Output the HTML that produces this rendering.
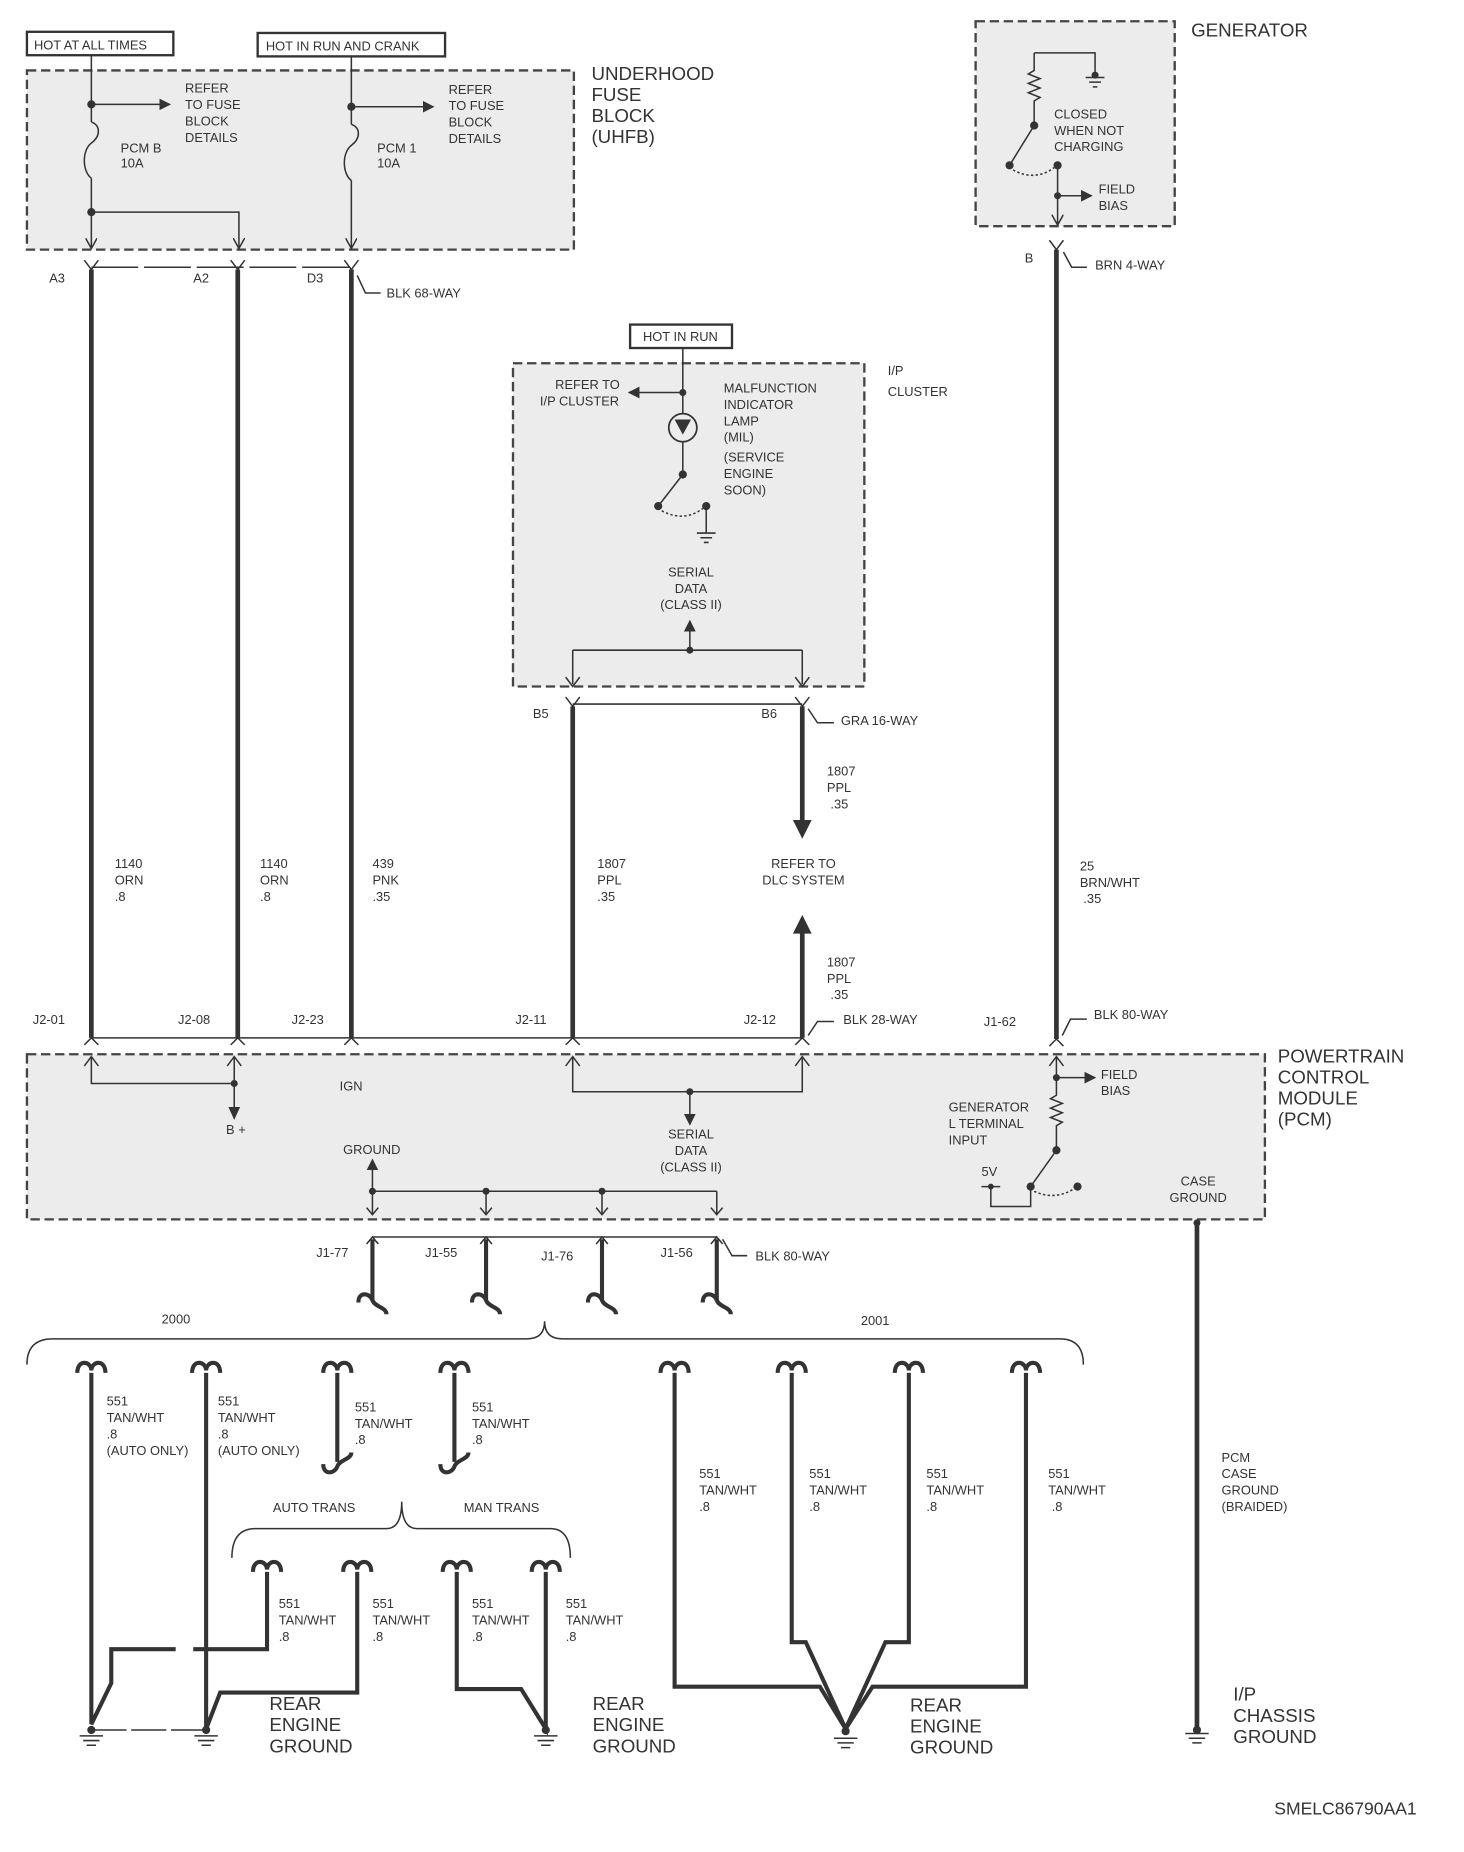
<!DOCTYPE html>
<html><head><meta charset="utf-8"><style>
html,body{margin:0;padding:0;background:#fff}
svg{display:block}
text{font-family:"Liberation Sans",sans-serif;fill:#333}
.s{font-size:11px}
.b{font-size:16px}
.w{stroke:#333;stroke-width:4;fill:none}
.t{stroke:#333;stroke-width:1.3;fill:none}
.box{fill:#ececec;stroke:#444;stroke-width:2;stroke-dasharray:8 4}
.h{stroke:#333;stroke-width:3.5;fill:none}
</style></head><body>
<svg width="1464" height="1852" viewBox="0 0 1250 1581" xmlns="http://www.w3.org/2000/svg">
<defs>
<marker id="a" markerWidth="10" markerHeight="10" refX="9" refY="5" orient="auto" markerUnits="userSpaceOnUse"><path d="M0,0 L10,5 L0,10 z" fill="#333"/></marker>
<marker id="o" markerWidth="10" markerHeight="10" refX="9" refY="5" orient="auto" markerUnits="userSpaceOnUse"><path d="M0,0 L9,5 L0,10" fill="none" stroke="#333" stroke-width="1.3"/></marker>
</defs>
<!-- top boxes -->
<rect x="23" y="27" width="125" height="20" fill="none" stroke="#333" stroke-width="2"/>
<text class="s" x="29" y="42">HOT AT ALL TIMES</text>
<rect x="220" y="28" width="160" height="20" fill="none" stroke="#333" stroke-width="2"/>
<text class="s" x="227" y="43">HOT IN RUN AND CRANK</text>
<rect class="box" x="23" y="60" width="467" height="153"/>
<text class="b" x="505" y="68">UNDERHOOD</text><text class="b" x="505" y="86">FUSE</text><text class="b" x="505" y="104">BLOCK</text><text class="b" x="505" y="122">(UHFB)</text>
<!-- UHFB internals -->
<path class="t" d="M78,47 V104 M78,152 V212" marker-end="url(#o)"/>
<path class="t" d="M78,104 c8,3 8,12 0,18 c-8,6 -8,24 0,30"/>
<circle cx="78" cy="89" r="3.5" fill="#333"/><path class="t" d="M78,89 H145" marker-end="url(#a)"/>
<circle cx="78" cy="181" r="3.5" fill="#333"/><path class="t" d="M78,181 H204 V212" marker-end="url(#o)"/>
<text class="s" x="158" y="79">REFER</text><text class="s" x="158" y="93">TO FUSE</text><text class="s" x="158" y="107">BLOCK</text><text class="s" x="158" y="121">DETAILS</text>
<text class="s" x="103" y="130">PCM B</text><text class="s" x="103" y="143">10A</text>
<path class="t" d="M300,48 V106 M300,154 V212" marker-end="url(#o)"/>
<path class="t" d="M300,106 c8,3 8,12 0,18 c-8,6 -8,24 0,30"/>
<circle cx="300" cy="91" r="3.5" fill="#333"/><path class="t" d="M300,91 H370" marker-end="url(#a)"/>
<text class="s" x="383" y="80">REFER</text><text class="s" x="383" y="94">TO FUSE</text><text class="s" x="383" y="108">BLOCK</text><text class="s" x="383" y="122">DETAILS</text>
<text class="s" x="322" y="130">PCM 1</text><text class="s" x="322" y="143">10A</text>
<!-- 68-way -->
<path class="t" d="M78,228 H300" stroke-dasharray="40 5"/>
<path class="w" d="M78,230 V886 M203,230 V886 M300,230 V886"/>
<path class="t" d="M72,222 L78,230 L84,222 M197,222 L203,230 L209,222 M294,222 L300,230 L306,222"/>
<text class="s" x="42" y="241">A3</text><text class="s" x="165" y="241">A2</text><text class="s" x="262" y="241">D3</text>
<path class="t" d="M305,235 L312,250 H325"/><text class="s" x="330" y="254">BLK 68-WAY</text>
<text class="s" x="98" y="741">1140</text><text class="s" x="98" y="755">ORN</text><text class="s" x="98" y="769">.8</text>
<text class="s" x="222" y="741">1140</text><text class="s" x="222" y="755">ORN</text><text class="s" x="222" y="769">.8</text>
<text class="s" x="318" y="741">439</text><text class="s" x="318" y="755">PNK</text><text class="s" x="318" y="769">.35</text>
<!-- 28-way -->
<path class="t" d="M78,886 H685"/>
<path class="t" d="M72,892 L78,886 L84,892 M197,892 L203,886 L209,892 M294,892 L300,886 L306,892 M483,892 L489,886 L495,892 M679,892 L685,886 L691,892"/>
<text class="s" x="28" y="874">J2-01</text><text class="s" x="152" y="874">J2-08</text><text class="s" x="249" y="874">J2-23</text><text class="s" x="440" y="874">J2-11</text><text class="s" x="635" y="874">J2-12</text>
<path class="t" d="M690,884 L698,872 H712"/><text class="s" x="720" y="874">BLK 28-WAY</text>
<!-- IP cluster -->
<rect x="538" y="277" width="87" height="20" fill="none" stroke="#333" stroke-width="2"/>
<text class="s" x="549" y="291">HOT IN RUN</text>
<rect class="box" x="438" y="310" width="300" height="276"/>
<text class="s" x="758" y="320">I/P</text><text class="s" x="758" y="338">CLUSTER</text>
<path class="t" d="M583,297 V353 M583,377 V405 L562,432"/>
<circle cx="583" cy="335" r="3" fill="#333"/><path class="t" d="M583,335 H537" marker-end="url(#a)"/>
<text class="s" x="474" y="332">REFER TO</text><text class="s" x="461" y="346">I/P CLUSTER</text>
<circle cx="583" cy="365" r="12" fill="none" stroke="#333" stroke-width="1.5"/>
<path d="M576,358 L590,358 L583,371 z" fill="#333"/>
<circle cx="583" cy="405" r="3.5" fill="#333"/><circle cx="562" cy="432" r="3.5" fill="#333"/><circle cx="603" cy="432" r="3.5" fill="#333"/>
<path class="t" d="M565,436 Q584,446 600,434" stroke-dasharray="2 2"/>
<path class="t" d="M603,432 V455 M595,455 H611 M598,459 H608 M601,463 H605"/>
<text class="s" x="618" y="335">MALFUNCTION</text><text class="s" x="618" y="349">INDICATOR</text><text class="s" x="618" y="363">LAMP</text><text class="s" x="618" y="377">(MIL)</text><text class="s" x="618" y="394">(SERVICE</text><text class="s" x="618" y="408">ENGINE</text><text class="s" x="618" y="422">SOON)</text>
<text class="s" x="590" y="492" text-anchor="middle">SERIAL</text><text class="s" x="590" y="506" text-anchor="middle">DATA</text><text class="s" x="590" y="520" text-anchor="middle">(CLASS II)</text>
<circle cx="589" cy="555" r="3" fill="#333"/><path class="t" d="M589,555 V530" marker-end="url(#a)"/>
<path class="t" d="M489,555 H685 M489,555 V584 M685,555 V584"/>
<path class="t" d="M483,578 L489,586 L495,578 M679,578 L685,586 L691,578"/>
<!-- 16-way -->
<path class="t" d="M489,601 H685"/>
<path class="w" d="M489,603 V886 M685,603 V705"/>
<path d="M677,700 L693,700 L685,716 z" fill="#333"/>
<path class="w" d="M685,795 V886"/><path d="M677,797 L693,797 L685,781 z" fill="#333"/>
<path class="t" d="M483,595 L489,603 L495,595 M679,595 L685,603 L691,595"/>
<text class="s" x="455" y="613">B5</text><text class="s" x="650" y="613">B6</text>
<path class="t" d="M690,605 L698,617 H712"/><text class="s" x="718" y="619">GRA 16-WAY</text>
<text class="s" x="706" y="662">1807</text><text class="s" x="706" y="676">PPL</text><text class="s" x="709" y="690">.35</text>
<text class="s" x="686" y="741" text-anchor="middle">REFER TO</text><text class="s" x="686" y="755" text-anchor="middle">DLC SYSTEM</text>
<text class="s" x="706" y="825">1807</text><text class="s" x="706" y="839">PPL</text><text class="s" x="709" y="853">.35</text>
<text class="s" x="510" y="741">1807</text><text class="s" x="510" y="755">PPL</text><text class="s" x="510" y="769">.35</text>
<!-- generator -->
<rect class="box" x="833" y="18" width="170" height="175"/>
<text class="b" x="1017" y="31">GENERATOR</text>
<path class="t" d="M883,45 V60 l-5,3 l10,4 l-10,4 l10,4 l-10,4 l10,4 l-5,3 V107 L862,141"/>
<path class="t" d="M883,45 H935 V66 M927,66 H943 M930,70 H940 M933,74 H937"/>
<circle cx="935" cy="64" r="3" fill="#333"/>
<circle cx="883" cy="107" r="3.5" fill="#333"/><circle cx="862" cy="141" r="3.5" fill="#333"/><circle cx="903" cy="141" r="3.5" fill="#333"/>
<path class="t" d="M865,145 Q884,155 900,143" stroke-dasharray="2 2"/>
<path class="t" d="M903,141 V192" marker-end="url(#o)"/>
<circle cx="903" cy="167" r="3" fill="#333"/><path class="t" d="M903,167 H932" marker-end="url(#a)"/>
<text class="s" x="900" y="101">CLOSED</text><text class="s" x="900" y="115">WHEN NOT</text><text class="s" x="900" y="129">CHARGING</text>
<text class="s" x="938" y="165">FIELD</text><text class="s" x="938" y="179">BIAS</text>
<path class="w" d="M902,213 V887"/>
<path class="t" d="M896,205 L902,213 L908,205 M896,893 L902,887 L908,893"/>
<text class="s" x="875" y="224">B</text>
<path class="t" d="M908,215 L915,228 H928"/><text class="s" x="935" y="230">BRN 4-WAY</text>
<text class="s" x="922" y="743">25</text><text class="s" x="922" y="757">BRN/WHT</text><text class="s" x="925" y="771">.35</text>
<text class="s" x="840" y="876">J1-62</text>
<path class="t" d="M907,884 L914,870 H928"/><text class="s" x="934" y="870">BLK 80-WAY</text>
<!-- PCM -->
<rect class="box" x="23" y="900" width="1057" height="141"/>
<text class="b" x="1091" y="907">POWERTRAIN</text><text class="b" x="1091" y="925">CONTROL</text><text class="b" x="1091" y="943">MODULE</text><text class="b" x="1091" y="961">(PCM)</text>
<path class="t" d="M72,910 L78,902 L84,910 M78,902 V925 H200 M194,910 L200,902 L206,910 M200,902 V955" />
<path d="M195,945 L205,945 L200,956 z" fill="#333"/><circle cx="200" cy="925" r="3" fill="#333"/>
<text class="s" x="290" y="931">IGN</text><text class="s" x="193" y="968">B +</text>
<path class="t" d="M483,910 L489,902 L495,910 M489,902 V932 H685 V902 M679,910 L685,902 L691,910"/>
<circle cx="589" cy="932" r="3" fill="#333"/><path class="t" d="M589,932 V960" marker-end="url(#a)"/>
<text class="s" x="590" y="972" text-anchor="middle">SERIAL</text><text class="s" x="590" y="986" text-anchor="middle">DATA</text><text class="s" x="590" y="1000" text-anchor="middle">(CLASS II)</text>
<text class="s" x="293" y="985">GROUND</text>
<path class="t" d="M318,1017 V990" marker-end="url(#a)"/>
<path class="t" d="M318,1017 H612 M318,1017 V1037 M415,1017 V1037 M514,1017 V1037 M612,1017 V1037"/>
<path class="t" d="M313,1031 L318,1037 L323,1031 M410,1031 L415,1037 L420,1031 M509,1031 L514,1037 L519,1031 M607,1031 L612,1037 L617,1031"/>
<circle cx="318" cy="1017" r="3" fill="#333"/><circle cx="415" cy="1017" r="3" fill="#333"/><circle cx="514" cy="1017" r="3" fill="#333"/>
<path class="t" d="M896,910 L902,902 L908,910 M902,902 V935 l-5,3 l10,4 l-10,4 l10,4 l-10,4 l10,4 l-5,3 V982 L880,1013 M846,1013 V1030 H880 V1013"/>
<circle cx="902" cy="920" r="3" fill="#333"/><path class="t" d="M902,920 H935" marker-end="url(#a)"/>
<circle cx="902" cy="982" r="3.5" fill="#333"/><circle cx="880" cy="1013" r="3.5" fill="#333"/><circle cx="920" cy="1013" r="3.5" fill="#333"/><circle cx="846" cy="1013" r="2.5" fill="#333"/>
<path class="t" d="M838,1013 H854"/>
<path class="t" d="M883,1017 Q900,1025 917,1015" stroke-dasharray="2 2"/>
<text class="s" x="940" y="921">FIELD</text><text class="s" x="940" y="935">BIAS</text>
<text class="s" x="810" y="949">GENERATOR</text><text class="s" x="810" y="963">L TERMINAL</text><text class="s" x="810" y="977">INPUT</text>
<text class="s" x="838" y="1004">5V</text>
<text class="s" x="1023" y="1012" text-anchor="middle">CASE</text><text class="s" x="1023" y="1026" text-anchor="middle">GROUND</text>
<circle cx="1022" cy="1044" r="3" fill="#333"/>
<path class="w" d="M1022,1044 V1478"/>
<path class="t" d="M1012,1480 H1032 M1015,1484 H1029 M1018,1488 H1026"/><circle cx="1022" cy="1477" r="3.5" fill="#333"/>
<text class="s" x="1043" y="1248">PCM</text><text class="s" x="1043" y="1262">CASE</text><text class="s" x="1043" y="1276">GROUND</text><text class="s" x="1043" y="1290">(BRAIDED)</text>
<text class="b" x="1053" y="1452">I/P</text><text class="b" x="1053" y="1470">CHASSIS</text><text class="b" x="1053" y="1488">GROUND</text>
<!-- J1 grounds -->
<path class="t" d="M318,1056 H612"/>
<path class="t" d="M313,1062 L318,1056 L323,1062 M410,1062 L415,1056 L420,1062 M509,1062 L514,1056 L519,1062 M607,1062 L612,1056 L617,1062"/>
<path class="h" d="M318,1058 V1110 M415,1058 V1110 M514,1058 V1110 M612,1058 V1110"/>
<g class="h">
<path d="M306,1112 c0,-10 10,-8 12,-2 c2,6 12,6 12,12"/>
<path d="M403,1112 c0,-10 10,-8 12,-2 c2,6 12,6 12,12"/>
<path d="M502,1112 c0,-10 10,-8 12,-2 c2,6 12,6 12,12"/>
<path d="M600,1112 c0,-10 10,-8 12,-2 c2,6 12,6 12,12"/>
</g>
<text class="s" x="270" y="1073">J1-77</text><text class="s" x="363" y="1073">J1-55</text><text class="s" x="462" y="1076">J1-76</text><text class="s" x="564" y="1073">J1-56</text>
<path class="t" d="M617,1058 L625,1072 H638"/><text class="s" x="645" y="1076">BLK 80-WAY</text>
<!-- brace -->
<path class="t" d="M23,1165 Q23,1143 45,1143 H450 Q465,1143 465,1128 Q465,1143 480,1143 H905 Q925,1143 925,1165"/>
<text class="s" x="138" y="1130">2000</text><text class="s" x="735" y="1131">2001</text>
<!-- top hooks for harness -->
<g class="h">
<path d="M66,1172 c0,-12 12,-10 12,-2 c0,-8 12,-10 12,2"/>
<path d="M164,1172 c0,-12 12,-10 12,-2 c0,-8 12,-10 12,2"/>
<path d="M276,1172 c0,-12 12,-10 12,-2 c0,-8 12,-10 12,2"/>
<path d="M376,1172 c0,-12 12,-10 12,-2 c0,-8 12,-10 12,2"/>
<path d="M564,1172 c0,-12 12,-10 12,-2 c0,-8 12,-10 12,2"/>
<path d="M664,1172 c0,-12 12,-10 12,-2 c0,-8 12,-10 12,2"/>
<path d="M764,1172 c0,-12 12,-10 12,-2 c0,-8 12,-10 12,2"/>
<path d="M864,1172 c0,-12 12,-10 12,-2 c0,-8 12,-10 12,2"/>
<path d="M216,1342 c0,-12 12,-10 12,-2 c0,-8 12,-10 12,2"/>
<path d="M293,1342 c0,-12 12,-10 12,-2 c0,-8 12,-10 12,2"/>
<path d="M378,1342 c0,-12 12,-10 12,-2 c0,-8 12,-10 12,2"/>
<path d="M454,1342 c0,-12 12,-10 12,-2 c0,-8 12,-10 12,2"/>
<path d="M288,1172 V1248 M276,1250 c0,10 10,8 12,2 c2,-6 12,-6 12,-12"/>
<path d="M388,1172 V1248 M376,1250 c0,10 10,8 12,2 c2,-6 12,-6 12,-12"/>
</g>
<text class="s" x="91" y="1200">551</text><text class="s" x="91" y="1214">TAN/WHT</text><text class="s" x="91" y="1228">.8</text><text class="s" x="91" y="1242">(AUTO ONLY)</text>
<text class="s" x="186" y="1200">551</text><text class="s" x="186" y="1214">TAN/WHT</text><text class="s" x="186" y="1228">.8</text><text class="s" x="186" y="1242">(AUTO ONLY)</text>
<text class="s" x="303" y="1205">551</text><text class="s" x="303" y="1219">TAN/WHT</text><text class="s" x="303" y="1233">.8</text>
<text class="s" x="403" y="1205">551</text><text class="s" x="403" y="1219">TAN/WHT</text><text class="s" x="403" y="1233">.8</text>
<text class="s" x="233" y="1291">AUTO TRANS</text><text class="s" x="396" y="1291">MAN TRANS</text>
<path class="t" d="M198,1330 Q198,1305 218,1305 H330 Q343,1305 343,1282 Q343,1305 356,1305 H470 Q487,1305 487,1330"/>
<text class="s" x="238" y="1373">551</text><text class="s" x="238" y="1387">TAN/WHT</text><text class="s" x="238" y="1401">.8</text>
<text class="s" x="318" y="1373">551</text><text class="s" x="318" y="1387">TAN/WHT</text><text class="s" x="318" y="1401">.8</text>
<text class="s" x="403" y="1373">551</text><text class="s" x="403" y="1387">TAN/WHT</text><text class="s" x="403" y="1401">.8</text>
<text class="s" x="483" y="1373">551</text><text class="s" x="483" y="1387">TAN/WHT</text><text class="s" x="483" y="1401">.8</text>
<!-- 2000 wiring -->
<g class="h">
<path d="M78,1172 V1472 L95,1437 V1408 H150"/>
<path d="M165,1408 H228 V1342"/>
<path d="M176,1172 V1476 L188,1445 H305 V1342"/>
<path d="M390,1342 V1442 H445 L466,1476 V1342"/>
</g>
<path class="t" d="M78,1477 H176" stroke-dasharray="30 4"/>
<g class="t">
<path d="M68,1482 H88 M71,1486 H85 M74,1490 H82"/>
<path d="M166,1482 H186 M169,1486 H183 M172,1490 H180"/>
<path d="M456,1482 H476 M459,1486 H473 M462,1490 H470"/>
<path d="M712,1484 H732 M715,1488 H729 M718,1492 H726"/>
</g>
<circle cx="78" cy="1477" r="3.5" fill="#333"/><circle cx="176" cy="1477" r="3.5" fill="#333"/><circle cx="466" cy="1477" r="3.5" fill="#333"/><circle cx="722" cy="1478" r="3.5" fill="#333"/>
<text class="b" x="230" y="1460">REAR</text><text class="b" x="230" y="1478">ENGINE</text><text class="b" x="230" y="1496">GROUND</text>
<text class="b" x="506" y="1460">REAR</text><text class="b" x="506" y="1478">ENGINE</text><text class="b" x="506" y="1496">GROUND</text>
<text class="b" x="777" y="1461">REAR</text><text class="b" x="777" y="1479">ENGINE</text><text class="b" x="777" y="1497">GROUND</text>
<!-- 2001 wiring -->
<g class="h">
<path d="M576,1172 V1440 H700 L722,1476"/>
<path d="M876,1172 V1440 H745 L722,1476"/>
<path d="M676,1172 V1402 H688 L722,1476"/>
<path d="M776,1172 V1402 H756 L722,1476"/>
</g>
<text class="s" x="597" y="1262">551</text><text class="s" x="597" y="1276">TAN/WHT</text><text class="s" x="597" y="1290">.8</text>
<text class="s" x="691" y="1262">551</text><text class="s" x="691" y="1276">TAN/WHT</text><text class="s" x="691" y="1290">.8</text>
<text class="s" x="791" y="1262">551</text><text class="s" x="791" y="1276">TAN/WHT</text><text class="s" x="791" y="1290">.8</text>
<text class="s" x="895" y="1262">551</text><text class="s" x="895" y="1276">TAN/WHT</text><text class="s" x="898" y="1290">.8</text>
<text x="1088" y="1549" style="font-size:15px">SMELC86790AA1</text>
</svg>
</body></html>
